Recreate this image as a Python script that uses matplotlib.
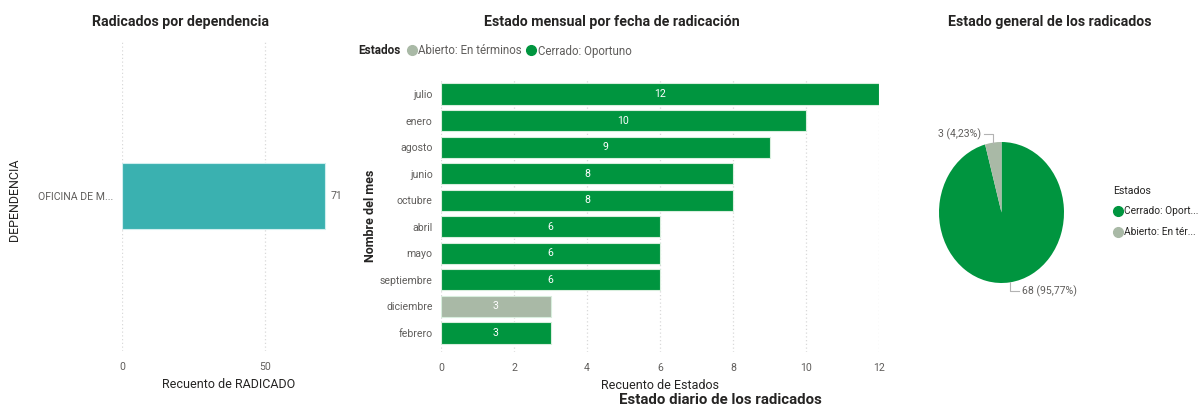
import matplotlib

matplotlib.use("Agg")
import matplotlib.pyplot as plt
from matplotlib.lines import Line2D
import numpy as np

plt.rcParams["font.family"] = ["Roboto", "DejaVu Sans"]

GREEN = "#00953f"
GRAY_GREEN = "#a9b9a6"
TEAL = "#3ab1b0"
TEXT = "#252423"
TICK = "#605e5c"
GRID = "#d9d9d9"

# data
dependencias = ["OFICINA DE M..."]
radicados = [71]

meses = ["julio", "enero", "agosto", "junio", "octubre", "abril", "mayo",
         "septiembre", "diciembre", "febrero"]
recuento_meses = [12, 10, 9, 8, 8, 6, 6, 6, 3, 3]
estado_meses = ["Cerrado", "Cerrado", "Cerrado", "Cerrado", "Cerrado", "Cerrado",
                "Cerrado", "Cerrado", "Abierto", "Cerrado"]

estados = ["Cerrado: Oportuno", "Abierto: En términos"]
estados_cortos = ["Cerrado: Oport...", "Abierto: En tér..."]
estado_total = [68, 3]

W, H = 1198, 407
fig = plt.figure(figsize=(W / 100, H / 100), dpi=100)


def px_axes(left, top, right, bottom):
    return fig.add_axes([left / W, 1 - bottom / H, (right - left) / W, (bottom - top) / H])


def style(ax):
    for s in ax.spines.values():
        s.set_visible(False)
    ax.tick_params(length=0, labelsize=7.6, colors=TICK)
    ax.grid(True, axis="x", color=GRID, linestyle=(0, (1, 2)), linewidth=0.9)
    ax.set_axisbelow(True)


# left: radicados por dependencia
ax1 = px_axes(122, 41, 336, 351)
ax1.barh(np.arange(len(dependencias)), radicados, height=0.21, color=TEAL,
         edgecolor="#cfeeee", linewidth=0.8)
for i, v in enumerate(radicados):
    ax1.text(v + 2, i, str(v), va="center", ha="left", fontsize=7.6, color=TICK)
ax1.set_xlim(0, 75)
ax1.set_ylim(-0.5, 0.5)
ax1.set_xticks([0, 50])
ax1.set_yticks(np.arange(len(dependencias)))
ax1.set_yticklabels(dependencias)
style(ax1)
ax1.tick_params(axis="y", pad=6)
ax1.tick_params(axis="x", pad=8)
ax1.set_xlabel("Recuento de RADICADO", fontsize=9, color=TEXT, labelpad=4)
fig.text(15 / W, 1 - 200 / H, "DEPENDENCIA", rotation=90, ha="center", va="center",
         fontsize=9, color=TEXT)
fig.text(180 / W, 1 - 22 / H, "Radicados por dependencia", ha="center", va="center",
         fontsize=10.2, fontweight="bold", color=TEXT)

# middle: estado mensual
ax2 = px_axes(441, 80, 879, 352)
y = np.arange(len(meses))
colors = [GREEN if e == "Cerrado" else GRAY_GREEN for e in estado_meses]
ax2.barh(y, recuento_meses, height=0.8, color=colors, edgecolor="#d8eedd", linewidth=0.8)
for yi, v in zip(y, recuento_meses):
    ax2.text(v / 2, yi, str(v), ha="center", va="center", fontsize=7.6, color="white")
ax2.set_xlim(0, 12)
ax2.set_ylim(len(meses) - 0.28, -0.53)
ax2.set_xticks(np.arange(0, 13, 2))
ax2.set_yticks(y)
ax2.set_yticklabels(meses)
style(ax2)
ax2.tick_params(axis="y", pad=6)
ax2.tick_params(axis="x", pad=8)
ax2.set_xlabel("Recuento de Estados", fontsize=9, color=TEXT, labelpad=4)
ax2.set_ylabel("Nombre del mes", fontsize=9, color=TEXT, fontweight="bold", labelpad=2)
fig.text(612 / W, 1 - 22 / H, "Estado mensual por fecha de radicación", ha="center",
         va="center", fontsize=10.2, fontweight="bold", color=TEXT)
fig.text(358 / W, 1 - 51 / H, "Estados", ha="left", va="center", fontsize=8.5,
         fontweight="bold", color=TEXT)
leg_handles = [Line2D([], [], marker="o", linestyle="", color=GRAY_GREEN, markersize=7),
               Line2D([], [], marker="o", linestyle="", color=GREEN, markersize=7)]
fig.legend(leg_handles, [estados[1], estados[0]], ncol=2, frameon=False,
           loc="center left", bbox_to_anchor=(396 / W, 1 - 51 / H), fontsize=8.3,
           handletextpad=0.05, columnspacing=0.3, handlelength=1.0, labelcolor=TICK)

# right: pie
ax3 = px_axes(939, 142, 1064, 283)
wedges, _ = ax3.pie(estado_total, colors=[GREEN, GRAY_GREEN], startangle=90,
                    counterclock=False, radius=1.0)
ax3.set_aspect("auto")
ax3.set_xlim(-1, 1)
ax3.set_ylim(-1, 1)
total = sum(estado_total)
for w, v in zip(wedges, estado_total):
    ang = np.deg2rad((w.theta1 + w.theta2) / 2)
    x0, y0 = np.cos(ang), np.sin(ang)
    up = 1 if y0 > 0 else -1
    side = 1 if up < 0 else -1
    y1 = y0 + 0.12 * up
    ax3.plot([x0, x0, x0 + 0.15 * side], [y0, y1, y1], color="#b3b3b3", lw=0.8,
             clip_on=False)
    label = f"{v} ({v / total * 100:.2f}%)".replace(".", ",")
    ax3.text(x0 + 0.2 * side, y1, label, ha="left" if side > 0 else "right",
             va="center", fontsize=7.6, color=TICK, clip_on=False)
fig.text(1050 / W, 1 - 22 / H, "Estado general de los radicados", ha="center",
         va="center", fontsize=10.2, fontweight="bold", color=TEXT)
fig.text(1113 / W, 1 - 191 / H, "Estados", ha="left", va="center", fontsize=7.6,
         color=TEXT)
pie_handles = [Line2D([], [], marker="o", linestyle="", color=c, markersize=7)
               for c in [GREEN, GRAY_GREEN]]
fig.legend(pie_handles, estados_cortos, frameon=False, loc="upper left",
           bbox_to_anchor=(1104 / W, 1 - 197 / H), fontsize=7.3, handletextpad=0.05,
           handlelength=1.0, labelspacing=1.1, labelcolor=TEXT)

fig.text(720 / W, 1 - 400 / H, "Estado diario de los radicados", ha="center",
         va="center", fontsize=10.8, fontweight="bold", color=TEXT)

fig.savefig("out.png", dpi=100, facecolor="white")
